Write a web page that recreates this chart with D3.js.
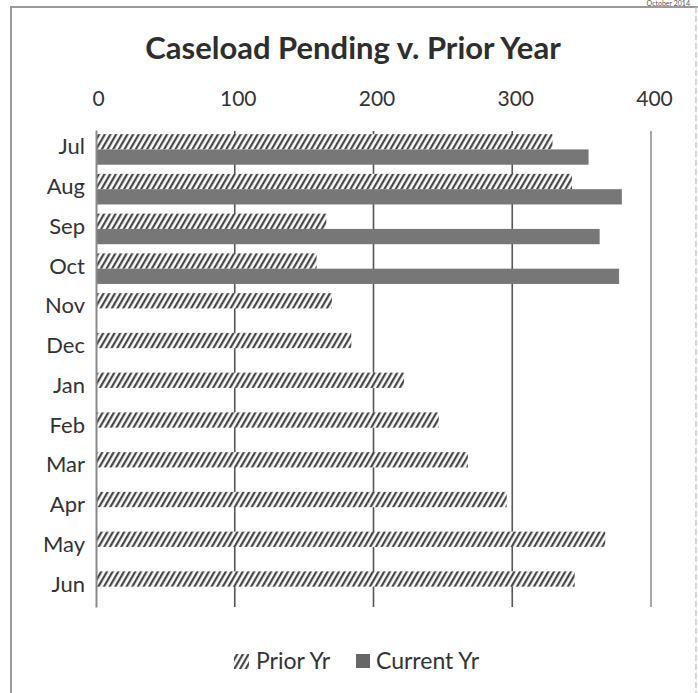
<!DOCTYPE html>
<html><head><meta charset="utf-8">
<script src="https://cdn.jsdelivr.net/npm/d3@7"></script>
<style>body{margin:0;background:#fff;overflow:hidden} svg{display:block}</style>
</head><body>
<script>
const months = ["Jul","Aug","Sep","Oct","Nov","Dec","Jan","Feb","Mar","Apr","May","Jun"];
const priorYr = [329,343,166,159,170,184,222,247,268,296,367,345];
const currentYr = [355,379,363,377,null,null,null,null,null,null,null,null];
const tickValues = [0,100,200,300,400];
const seriesNames = ["Prior Yr","Current Yr"];
const titleText = "Caseload Pending v. Prior Year";
const headerText = "October 2014";

const W = 698, H = 693;
const font = "Lato, 'Open Sans', sans-serif";
const svg = d3.select("body").append("svg").attr("width", W).attr("height", H);

// hatch pattern
const defs = svg.append("defs");
const pat = defs.append("pattern").attr("id","hatch").attr("patternUnits","userSpaceOnUse")
  .attr("width",4.9).attr("height",10).attr("patternTransform","rotate(30)");
pat.append("rect").attr("width",4.9).attr("height",10).attr("fill","#fff");
pat.append("line").attr("x1",1.2).attr("y1",0).attr("x2",1.2).attr("y2",10)
  .attr("stroke","#3a3a3a").attr("stroke-width",2.1);

// frame
svg.append("rect").attr("x",11).attr("y",7).attr("width",W+20).attr("height",H+20)
  .attr("fill","none").attr("stroke","#9a9a9a").attr("stroke-width",2);
svg.append("line").attr("x1",696).attr("x2",696).attr("y1",7).attr("y2",H)
  .attr("stroke","#c8c8c8").attr("stroke-width",1.5).attr("stroke-dasharray","6,3");
svg.append("text").attr("x",690).attr("y",5.5).attr("text-anchor","end")
  .attr("font-family",font).attr("font-size",7)
  .attr("fill","#555").text(headerText);

// title
svg.append("text").attr("x",353).attr("y",59).attr("text-anchor","middle")
  .attr("font-family",font).attr("font-weight","bold").attr("font-size",31)
  .attr("fill","#2e2e2e").text(titleText);

const x = d3.scaleLinear().domain([0,400]).range([96,651]);
const y = d3.scaleBand().domain(months).range([130,607]).paddingInner(0).paddingOuter(0);
const bw = y.bandwidth()/2.6;
const ys = d3.scaleBand().domain(seriesNames).range([0.27*bw, 0.27*bw + 2*bw]);

// gridlines
svg.append("g").selectAll("line").data(tickValues.filter(d=>d>0)).join("line")
  .attr("x1",d=>x(d)).attr("x2",d=>x(d)).attr("y1",131).attr("y2",607)
  .attr("stroke",d=>d===400?"#a8a8a8":"#555").attr("stroke-width",d=>d===400?2:1.6);

// top axis
const axis = d3.axisTop(x).tickValues(tickValues).tickSize(0).tickPadding(0);
const ax = svg.append("g").attr("transform","translate(0,106)").call(axis);
ax.select(".domain").remove();
ax.selectAll("text").attr("font-family",font).attr("font-size",21).attr("fill","#333")
  .attr("dx",d=>d===0?2:3);

// bars
const rows = months.map((m,i)=>({m, prior: priorYr[i], current: currentYr[i]}));
svg.append("g").selectAll("rect").data(rows).join("rect")
  .attr("x",x(0)).attr("y",d=>y(d.m)+ys("Prior Yr"))
  .attr("width",d=>x(d.prior)-x(0)).attr("height",ys.bandwidth())
  .attr("fill","url(#hatch)");
svg.append("g").selectAll("rect").data(rows.filter(d=>d.current!=null)).join("rect")
  .attr("x",x(0)).attr("y",d=>y(d.m)+ys("Current Yr"))
  .attr("width",d=>x(d.current)-x(0)).attr("height",ys.bandwidth())
  .attr("fill","#777");

// category axis
const yAxis = d3.axisLeft(y).tickSize(0).tickPadding(11);
const ya = svg.append("g").attr("transform",`translate(${x(0)},0)`).call(yAxis);
ya.select(".domain").attr("stroke","#8a8a8a").attr("stroke-width",2);
ya.selectAll("text").attr("font-family",font).attr("font-size",22).attr("fill","#333")
  .attr("dy","0.2em");

// legend
const lg = svg.append("g").attr("transform","translate(0,661)");
lg.append("rect").attr("x",234).attr("y",-7).attr("width",15).attr("height",15).attr("fill","url(#hatch)");
lg.append("text").attr("x",256).attr("y",8).attr("font-family",font).attr("font-size",23)
  .attr("fill","#333").text(seriesNames[0]);
lg.append("rect").attr("x",356).attr("y",-7).attr("width",14).attr("height",14).attr("fill","#666");
lg.append("text").attr("x",376).attr("y",8).attr("font-family",font).attr("font-size",23)
  .attr("fill","#333").text(seriesNames[1]);
</script>
</body></html>
